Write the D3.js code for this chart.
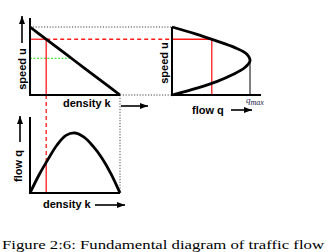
<!DOCTYPE html>
<html>
<head>
<meta charset="utf-8">
<script src="https://cdn.jsdelivr.net/npm/d3@7"></script>
<style>
	body { margin: 0; background: #fff; }
	svg { display: block; }
	.lbl { font-family: "Liberation Sans", Arial, sans-serif; font-weight: bold; font-size: 11px; fill: #000; }
	.cap { font-family: "Liberation Serif", "DejaVu Serif", serif; font-size: 13px; fill: #000; }
</style>
</head>
<body>
<svg id="chart" width="330" height="252"></svg>
<script>
(function (d3) {
	"use strict";

	/***** Data (normalised 0..1) *****/
	var density = [0.0, 0.1, 0.2, 0.3, 0.4, 0.5, 0.6, 0.7, 0.8, 0.9, 1.0];
	var speed   = [1.0, 0.9, 0.8, 0.7, 0.6, 0.5, 0.4, 0.3, 0.2, 0.1, 0.0];
	var flow    = [0.0, 0.3, 0.56, 0.8, 0.96, 1.0, 0.93, 0.78, 0.58, 0.32, 0.0];

	// the marked operating point and the capacity point
	var markK = [0.18];
	var markU = [0.82];
	var markQ = [0.51];
	var capU = [0.54];
	var capK = [0.46];

	var axisLabels = ["speed u", "density k", "flow q"];
	var caption = "Figure 2:6: Fundamental diagram of traffic flow";

	/***** Scales *****/
	var xK = d3.scaleLinear().domain([0, 1]).range([30, 120]);    // density, left panels
	var yU = d3.scaleLinear().domain([0, 1]).range([95, 27]);     // speed, top panels
	var xQ = d3.scaleLinear().domain([0, 1]).range([172, 250]);   // flow, right panel
	var yQ = d3.scaleLinear().domain([0, 1]).range([193, 133]);   // flow, bottom panel

	var svg = d3.select("#chart");

	var rows = density.map(function (k, i) {
		return { k: k, u: speed[i], q: flow[i] };
	});

	// small helper for a line
	function seg(x1, y1, x2, y2, stroke, width, dash) {
		var l = svg.append("line")
			.attr("x1", x1).attr("y1", y1)
			.attr("x2", x2).attr("y2", y2)
			.attr("stroke", stroke)
			.attr("stroke-width", width);
		if (dash) l.attr("stroke-dasharray", dash);
		return l;
	}

	// arrow: shaft + filled head, dir "right" or "up"
	function arrow(x1, y1, x2, y2, dir) {
		seg(x1, y1, x2, y2, "#000", 1.6);
		var h = 8, w = 3;
		var pts = dir === "up"
			? [[x2, y2], [x2 - w, y2 + h], [x2 + w, y2 + h]]
			: [[x2, y2], [x2 - h, y2 - w], [x2 - h, y2 + w]];
		svg.append("path")
			.attr("d", "M" + pts.join("L") + "Z")
			.attr("fill", "#000");
	}

	/***** Guide lines (dotted grey, red, green) *****/
	var grey = "#444";
	seg(xK(0), yU(1), xQ(0), yU(1), grey, 1, "1.2,1.6");
	seg(xK(1), yU(0), xQ(0), yU(0), grey, 1, "1.2,1.6");
	seg(xK(1), yU(0), xK(1), yQ(0), grey, 1, "1.2,1.6");

	seg(xK(0), yU(capU[0]), xK(capK[0]), yU(capU[0]), "#22dd22", 1, "2,1.5");

	var red = "#ff1a1a";
	seg(xK(0), yU(markU[0]), xK(markK[0]), yU(markU[0]), red, 1.3);
	seg(xK(markK[0]), yU(markU[0]), xQ(0), yU(markU[0]), red, 1.3, "4,3");
	seg(xK(markK[0]), yU(markU[0]), xK(markK[0]), yU(0), red, 1.3);
	seg(xK(markK[0]), yU(0), xK(markK[0]), yQ(markQ[0]), red, 1.3, "4,3");
	seg(xK(markK[0]), yQ(markQ[0]), xK(markK[0]), yQ(0), red, 1.3);
	seg(xQ(0), yU(markU[0]), xQ(markQ[0]), yU(markU[0]), red, 1.3);
	seg(xQ(markQ[0]), yU(markU[0]), xQ(markQ[0]), yU(0), red, 1.3);

	// capacity marker in the flow-speed panel
	seg(xQ(1), yU(capU[0]), xQ(1), yU(0), "#000", 1);

	/***** Axes *****/
	seg(xK(0), 18, xK(0), yU(0) + 1, "#000", 2);
	seg(xK(0) - 1, yU(0), xK(1), yU(0), "#000", 2);

	seg(xQ(0), yU(1), xQ(0), yU(0) + 1, "#000", 2);
	seg(xQ(0) - 1, yU(0), 261, yU(0), "#000", 2);

	seg(xK(0), 117, xK(0), yQ(0) + 1, "#000", 2);
	seg(xK(0) - 1, yQ(0), xK(1), yQ(0), "#000", 2);

	/***** Curves *****/
	var speedLine = d3.line()
		.x(function (d) { return xK(d.k); })
		.y(function (d) { return yU(d.u); });

	var fdLine = d3.line()
		.x(function (d) { return xQ(d.q); })
		.y(function (d) { return yU(d.u); })
		.curve(d3.curveCatmullRom);

	var flowLine = d3.line()
		.x(function (d) { return xK(d.k); })
		.y(function (d) { return yQ(d.q); })
		.curve(d3.curveCatmullRom);

	[speedLine, fdLine, flowLine].forEach(function (gen) {
		svg.append("path")
			.datum(rows)
			.attr("d", gen)
			.attr("fill", "none")
			.attr("stroke", "#000")
			.attr("stroke-width", 2.8)
			.attr("stroke-linejoin", "round");
	});

	/***** Labels *****/
	function vlabel(text, x, y) {
		svg.append("text")
			.attr("class", "lbl")
			.attr("text-anchor", "middle")
			.attr("transform", "translate(" + x + "," + y + ") rotate(-90)")
			.text(text);
	}

	vlabel(axisLabels[0], 25.5, 69);
	arrow(22, 43, 22, 16, "up");

	vlabel(axisLabels[0], 168, 63);

	svg.append("text").attr("class", "lbl")
		.attr("x", 63).attr("y", 107)
		.text(axisLabels[1]);
	arrow(121, 106, 148, 106, "right");

	svg.append("text").attr("class", "lbl")
		.attr("x", 192).attr("y", 114)
		.text(axisLabels[2]);
	arrow(231, 110, 252, 110, "right");

	// q_max
	var qm = svg.append("text")
		.attr("x", 246).attr("y", 103)
		.attr("font-family", "Liberation Serif, serif")
		.attr("font-style", "italic")
		.attr("fill", "#1c1c4a")
		.attr("font-size", "9px");
	qm.append("tspan").text("q");
	qm.append("tspan").attr("font-size", "8px").attr("dy", 1.5).text("max");

	vlabel(axisLabels[2], 22, 166);
	arrow(20, 142, 20, 116, "up");

	svg.append("text").attr("class", "lbl")
		.attr("x", 43).attr("y", 208)
		.text(axisLabels[1]);
	arrow(95, 205, 125, 205, "right");

	/***** Caption *****/
	svg.append("text").attr("class", "cap")
		.attr("x", 2).attr("y", 249)
		.attr("textLength", 322)
		.attr("lengthAdjust", "spacingAndGlyphs")
		.text(caption);

})(d3);
</script>
</body>
</html>
